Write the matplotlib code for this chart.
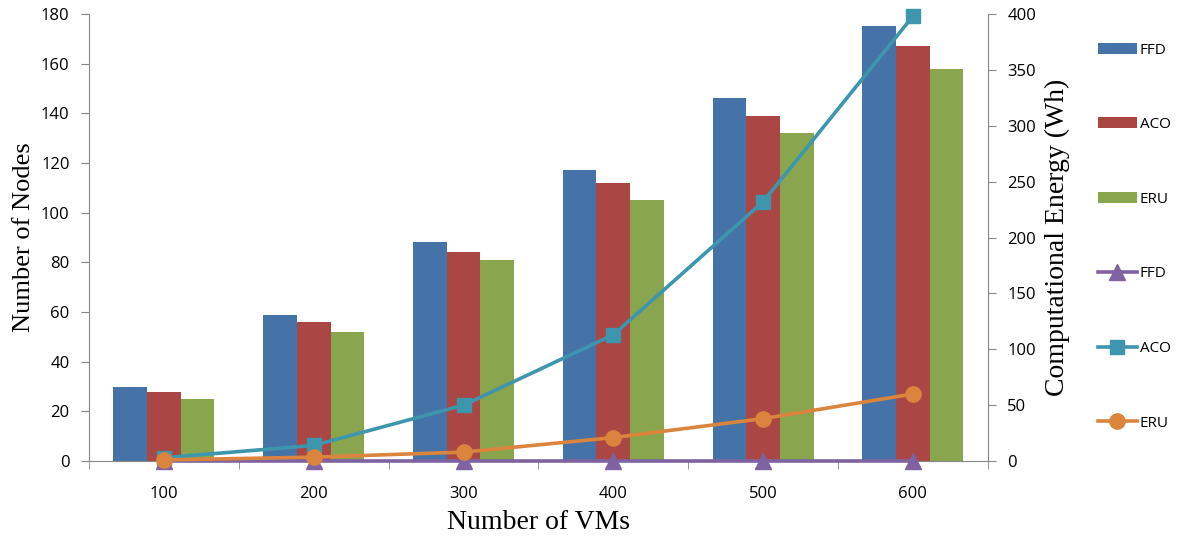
import numpy as np
import matplotlib.pyplot as plt

# Number of VMs on the x axis
vms = ['100', '200', '300', '400', '500', '600']

# Number of nodes used (left axis, bars)
nodes_ffd = [30, 59, 88, 117, 146, 175]
nodes_aco = [28, 56, 84, 112, 139, 167]
nodes_eru = [25, 52, 81, 105, 132, 158]

# Computational energy in Wh (right axis, lines)
energy_ffd = [0.5, 0.5, 0.5, 0.5, 0.5, 0.5]
energy_aco = [3, 14, 50, 113, 232, 398]
energy_eru = [1, 3.5, 8, 21, 38, 60]

bar_colors = ['#4572A7', '#AA4643', '#89A54E']
line_colors = ['#7F62A1', '#3D96AE', '#DB843D']

plt.rcParams['font.family'] = ['Open Sans', 'DejaVu Sans']

fig = plt.figure(figsize=(11.92, 5.38), dpi=100)
ax = fig.add_axes([0.0747, 0.143, 0.754, 0.831])
ax2 = ax.twinx()

x = np.arange(len(vms))
w = 0.225
bars = []
for i, (vals, lbl) in enumerate(zip([nodes_ffd, nodes_aco, nodes_eru], ['FFD', 'ACO', 'ERU'])):
    b = ax.bar(x + (i - 1) * w, vals, w, color=bar_colors[i], label=lbl, zorder=2)
    bars.append(b)

l1, = ax2.plot(x, energy_ffd, color=line_colors[0], lw=2.6, marker='^', ms=11, label='FFD', clip_on=False)
l2, = ax2.plot(x, energy_aco, color=line_colors[1], lw=2.6, marker='s', ms=10, label='ACO', clip_on=False)
l3, = ax2.plot(x, energy_eru, color=line_colors[2], lw=2.6, marker='o', ms=11, label='ERU', clip_on=False)

ax.set_xlim(-0.5, len(vms) - 0.5)
ax.set_ylim(0, 180)
ax.set_yticks(range(0, 181, 20))
ax2.set_ylim(0, 400)
ax2.set_yticks(range(0, 401, 50))

# category labels at centers, tick marks at boundaries
ax.set_xticks(x)
ax.set_xticklabels(vms)
ax.set_xticks(np.arange(-0.5, len(vms), 1.0), minor=True)
ax.tick_params(axis='x', which='major', length=0, pad=18, labelsize=12)
ax.tick_params(axis='x', which='minor', length=6, color='#888888', direction='out')
ax.tick_params(axis='y', length=6, color='#888888', labelsize=12, pad=8)
ax2.tick_params(axis='y', length=6, color='#888888', labelsize=12, pad=8)

for a in (ax, ax2):
    a.spines['top'].set_visible(False)
    for s in ('left', 'right', 'bottom'):
        a.spines[s].set_color('#888888')
ax.spines['right'].set_visible(False)
ax2.spines['left'].set_visible(False)
ax2.spines['bottom'].set_visible(False)

ax.set_xlabel('Number of VMs', family='Liberation Serif', fontsize=20, labelpad=6)
ax.set_ylabel('Number of Nodes', family='Liberation Serif', fontsize=19, labelpad=4)
ax2.set_ylabel('Computational Energy (Wh)', family='Liberation Serif', fontsize=20, labelpad=6)

handles = bars + [l1, l2, l3]
labels = ['FFD', 'ACO', 'ERU', 'FFD', 'ACO', 'ERU']
fig.legend(handles, labels, loc='upper left', bbox_to_anchor=(0.915, 0.935),
           frameon=False, fontsize=11, labelspacing=3.9, handlelength=2.5,
           handletextpad=0.2, borderpad=0)

fig.savefig('out.png', dpi=100)
